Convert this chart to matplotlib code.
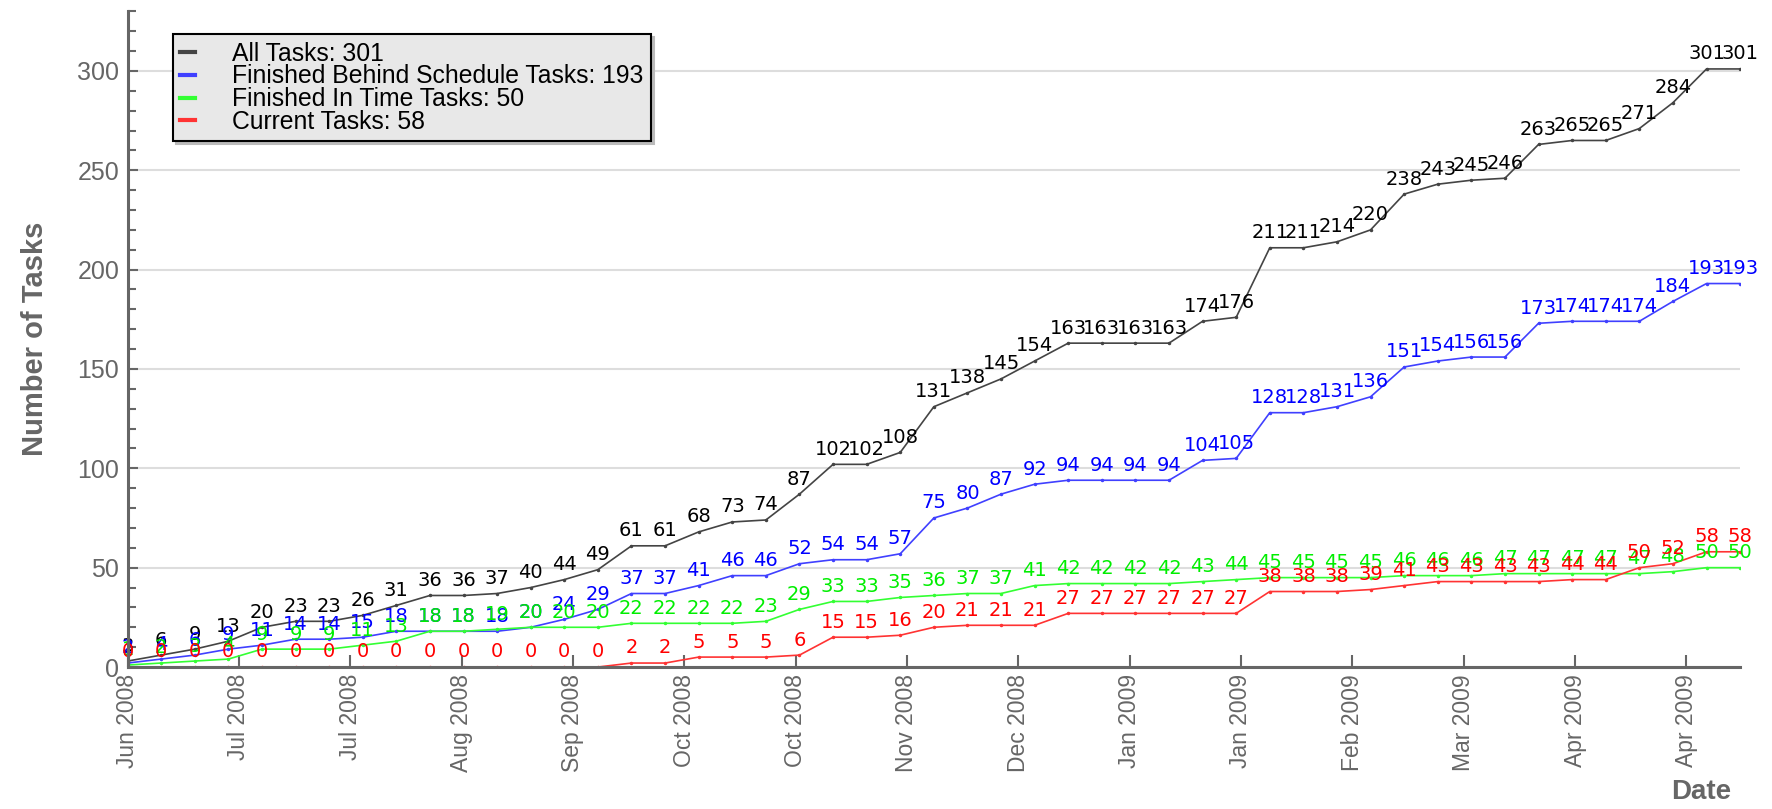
import numpy as np
import matplotlib
matplotlib.use('Agg')
import matplotlib.pyplot as plt
from matplotlib.ticker import MultipleLocator, FixedLocator

# weekly cumulative task counts, Jun 2008 - Apr 2009
all_tasks = [3, 6, 9, 13, 20, 23, 23, 26, 31, 36, 36, 37, 40, 44, 49, 61, 61, 68, 73, 74,
             87, 102, 102, 108, 131, 138, 145, 154, 163, 163, 163, 163, 174, 176, 211, 211,
             214, 220, 238, 243, 245, 246, 263, 265, 265, 271, 284, 301, 301]
behind = [2, 4, 6, 9, 11, 14, 14, 15, 18, 18, 18, 18, 20, 24, 29, 37, 37, 41, 46, 46,
          52, 54, 54, 57, 75, 80, 87, 92, 94, 94, 94, 94, 104, 105, 128, 128,
          131, 136, 151, 154, 156, 156, 173, 174, 174, 174, 184, 193, 193]
in_time = [1, 2, 3, 4, 9, 9, 9, 11, 13, 18, 18, 19, 20, 20, 20, 22, 22, 22, 22, 23,
           29, 33, 33, 35, 36, 37, 37, 41, 42, 42, 42, 42, 43, 44, 45, 45,
           45, 45, 46, 46, 46, 47, 47, 47, 47, 47, 48, 50, 50]
current = [0, 0, 0, 0, 0, 0, 0, 0, 0, 0, 0, 0, 0, 0, 0, 2, 2, 5, 5, 5,
           6, 15, 15, 16, 20, 21, 21, 21, 27, 27, 27, 27, 27, 27, 38, 38,
           38, 39, 41, 43, 43, 43, 43, 44, 44, 50, 52, 58, 58]

tick_labels = ['Jun 2008', 'Jul 2008', 'Jul 2008', 'Aug 2008', 'Sep 2008', 'Oct 2008',
               'Oct 2008', 'Nov 2008', 'Dec 2008', 'Jan 2009', 'Jan 2009', 'Feb 2009',
               'Mar 2009', 'Apr 2009', 'Apr 2009']
tick_step = 23.2 / 7  # ticks every 23.2 days, points weekly

series = [
    ('All Tasks', all_tasks, '#444444', '#000000'),
    ('Finished Behind Schedule Tasks', behind, '#4040ff', '#0000ff'),
    ('Finished In Time Tasks', in_time, '#33ff33', '#00ee00'),
    ('Current Tasks', current, '#ff3333', '#ff0000'),
]

grey = '#666666'
plt.rcParams['font.family'] = ['Liberation Sans', 'DejaVu Sans']

fig = plt.figure(figsize=(17.72, 8.09), dpi=100)
ax = fig.add_axes([0.072, 0.1755, 0.91, 0.8105])

x = np.arange(len(all_tasks))
for name, vals, lc, tc in series:
    ax.plot(x, vals, color=lc, lw=1.2, marker='o', ms=1.5,
            label=f'{name}: {vals[-1]}', zorder=3)
    for xi, v in zip(x, vals):
        ax.annotate(str(v), (xi, v), xytext=(0, 4), textcoords='offset points',
                    ha='center', va='bottom', fontsize=14, color=tc,
                    family='DejaVu Sans', zorder=4)

ax.set_xlim(0, len(all_tasks) - 1)
ax.set_ylim(0, 330)
ax.xaxis.set_major_locator(FixedLocator(np.arange(len(tick_labels)) * tick_step))
ax.set_xticklabels(tick_labels, rotation=90, color=grey, fontsize=16.5)
ax.yaxis.set_major_locator(MultipleLocator(50))
ax.yaxis.set_minor_locator(MultipleLocator(10))
ax.tick_params(axis='y', labelsize=18, labelcolor=grey)
ax.tick_params(which='both', direction='in', color=grey, width=1.5)
ax.tick_params(axis='x', length=9, pad=5)
ax.tick_params(axis='y', which='major', length=7, pad=6)
ax.tick_params(axis='y', which='minor', length=6)

ax.grid(axis='y', color='#dddddd', lw=1.5, zorder=0)
ax.set_axisbelow(True)
for s in ['top', 'right']:
    ax.spines[s].set_visible(False)
for s in ['left', 'bottom']:
    ax.spines[s].set_color(grey)
    ax.spines[s].set_linewidth(2.2)
    ax.spines[s].set_zorder(5)

ax.set_ylabel('Number of Tasks', fontsize=21, fontweight='bold', color=grey, labelpad=20)
fig.text(0.977, 0.005, 'Date', fontsize=20, fontweight='bold', color=grey,
         ha='right', va='bottom')

leg = ax.legend(loc='upper left', bbox_to_anchor=(0.028, 0.965), borderaxespad=0,
                fontsize=17.8, handlelength=0.6, handletextpad=1.5, labelspacing=-0.05,
                borderpad=0.3, fancybox=False, shadow={'color': '#bbbbbb', 'alpha': 1},
                framealpha=1, facecolor='#e8e8e8', edgecolor='black')
leg.get_frame().set_linewidth(1.5)
for h in leg.get_lines():
    h.set_linewidth(3)
    h.set_marker('')
leg.set_zorder(10)

fig.savefig('out.png', dpi=100)
